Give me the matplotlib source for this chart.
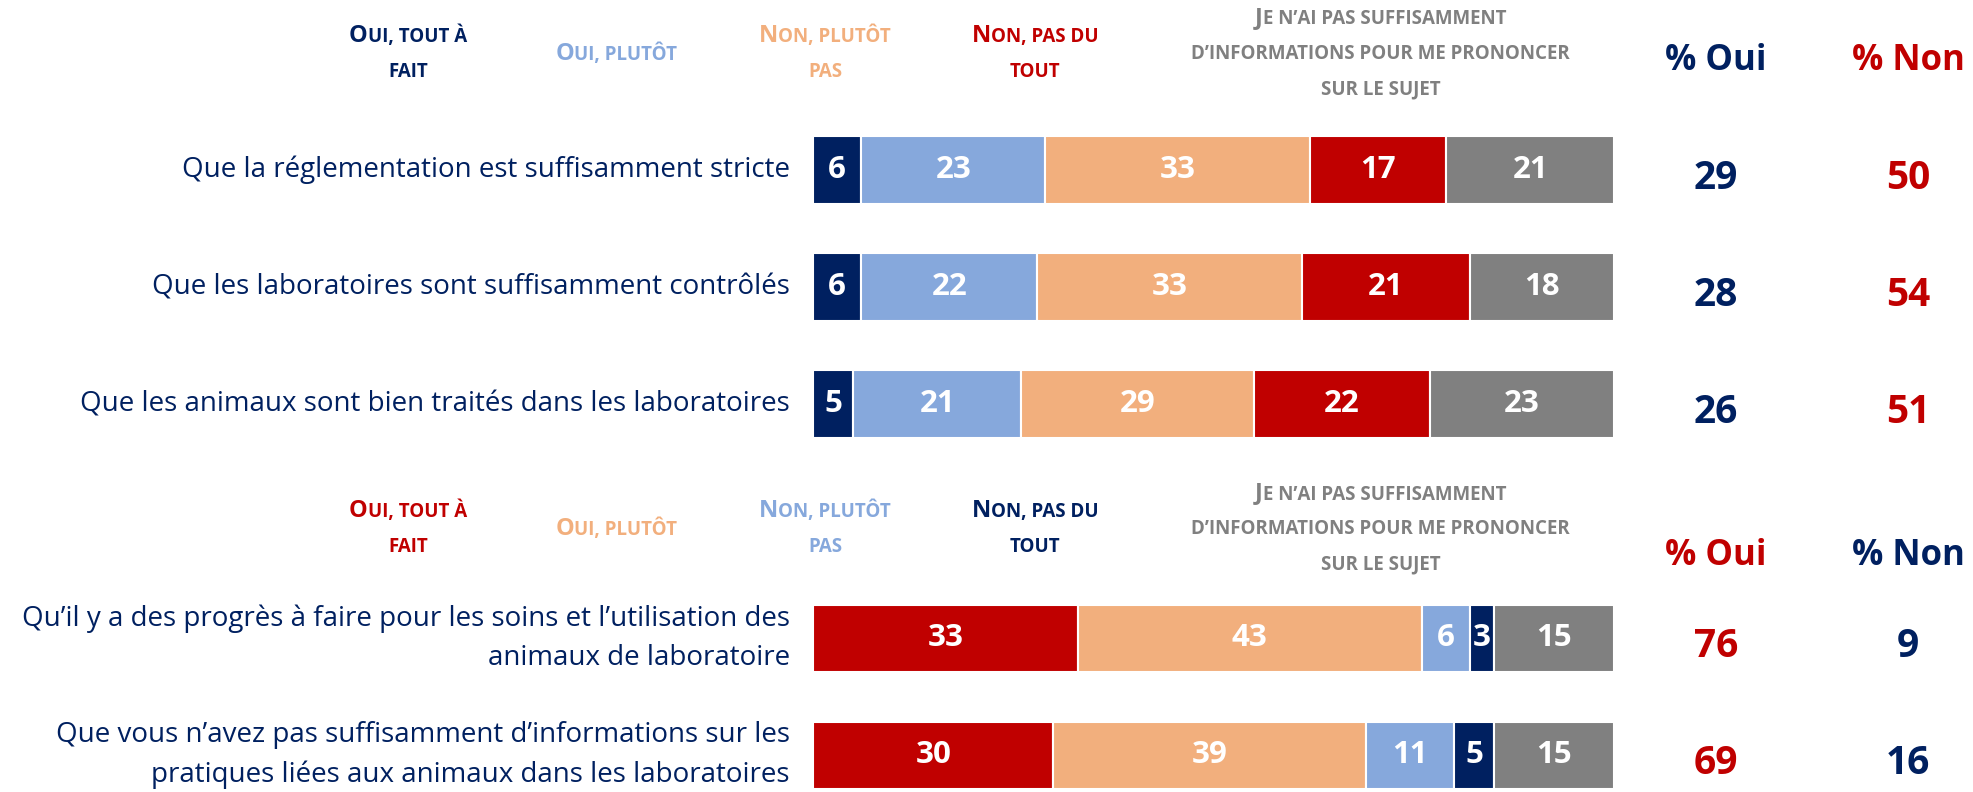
import numpy as np
import matplotlib
matplotlib.use("Agg")
import matplotlib.pyplot as plt
from matplotlib.offsetbox import TextArea, HPacker, AnnotationBbox

plt.rcParams['font.family'] = ['Open Sans', 'DejaVu Sans']

NAVY = '#002060'
LBLUE = '#86A8DC'
PEACH = '#F2AF7D'
RED = '#C00000'
GREY = '#808080'

# --- données ---
top_items = ["Que la réglementation est suffisamment stricte",
             "Que les laboratoires sont suffisamment contrôlés",
             "Que les animaux sont bien traités dans les laboratoires"]
top_tout_a_fait = [6, 6, 5]
top_plutot = [23, 22, 21]
top_plutot_pas = [33, 33, 29]
top_pas_du_tout = [17, 21, 22]
top_nsp = [21, 18, 23]
top_oui = [29, 28, 26]
top_non = [50, 54, 51]

bottom_items = ["Qu’il y a des progrès à faire pour les soins et l’utilisation des\nanimaux de laboratoire",
                "Que vous n’avez pas suffisamment d’informations sur les\npratiques liées aux animaux dans les laboratoires"]
bot_tout_a_fait = [33, 30]
bot_plutot = [43, 39]
bot_plutot_pas = [6, 11]
bot_pas_du_tout = [3, 5]
bot_nsp = [15, 15]
bot_oui = [76, 69]
bot_non = [9, 16]

answer_labels = ["Oui, tout à\nfait", "Oui, plutôt", "Non, plutôt\npas", "Non, pas du\ntout",
                 "Je n’ai pas suffisamment\nd’informations pour me prononcer\nsur le sujet"]
header_x = [-50.6, -24.6, 1.5, 27.7, 70.8]
col_oui_x, col_non_x = 112.7, 136.7

top_colors = [NAVY, LBLUE, PEACH, RED, GREY]
bot_colors = [RED, PEACH, LBLUE, NAVY, GREY]

fig = plt.figure(figsize=(19.74, 7.92), dpi=100)
ax = fig.add_axes([0, 0, 1, 1])
ax.set_xlim(-101.5, 144.9)
ax.set_ylim(5.316, -1.453)
ax.axis('off')


def smallcaps(x, y, line, color, big=17, small=13.5):
    # imitation des petites capitales
    runs = []
    for ch in line:
        is_big = ch.isupper()
        if runs and runs[-1][0] == is_big:
            runs[-1][1] += ch
        else:
            runs.append([is_big, ch])
    boxes = [TextArea(t.upper(), textprops=dict(color=color, fontsize=big if b else small,
                                                 fontweight='bold'))
             for b, t in runs]
    pack = HPacker(children=boxes, align='baseline', pad=0, sep=0)
    ab = AnnotationBbox(pack, (x, y), xycoords='data', frameon=False,
                        box_alignment=(0.5, 0.5), pad=0)
    ax.add_artist(ab)


def draw_block(ypos, items, series, colors, oui, non, oui_col, non_col, header_y):
    left = np.zeros(len(ypos))
    for vals, c in zip(series, colors):
        vals = np.array(vals)
        bars = ax.barh(ypos, vals, left=left, height=0.573, color=c,
                       edgecolor='white', linewidth=1.5)
        ax.bar_label(bars, labels=[str(v) for v in vals], label_type='center',
                     color='white', fontsize=22.5, fontweight='bold')
        left += vals
    for y, lab in zip(ypos, items):
        ax.text(-2.9, y, lab, ha='right', va='center', fontsize=20, color=NAVY,
                linespacing=1.5)
    for y, o, n in zip(ypos, oui, non):
        ax.text(col_oui_x, y + 0.07, str(o), ha='center', va='center',
                fontsize=28, fontweight='bold', color=oui_col)
        ax.text(col_non_x, y + 0.07, str(n), ha='center', va='center',
                fontsize=28, fontweight='bold', color=non_col)
    # en-têtes des réponses
    lh = 0.305
    for x, lab, c in zip(header_x, answer_labels, colors):
        lines = lab.split('\n')
        n = len(lines)
        for i, line in enumerate(lines):
            smallcaps(x, header_y + (i - (n - 1) / 2) * lh, line, c)


top_y = [0, 1, 2]
bot_y = [4, 5]

draw_block(top_y, top_items,
           [top_tout_a_fait, top_plutot, top_plutot_pas, top_pas_du_tout, top_nsp],
           top_colors, top_oui, top_non, NAVY, RED, -0.99)
ax.text(col_oui_x, -0.93, '% Oui', ha='center', va='center', fontsize=25,
        fontweight='bold', color=NAVY)
ax.text(col_non_x, -0.93, '% Non', ha='center', va='center', fontsize=25,
        fontweight='bold', color=RED)

draw_block(bot_y, bottom_items,
           [bot_tout_a_fait, bot_plutot, bot_plutot_pas, bot_pas_du_tout, bot_nsp],
           bot_colors, bot_oui, bot_non, RED, NAVY, 3.07)
ax.text(col_oui_x, 3.3, '% Oui', ha='center', va='center', fontsize=25,
        fontweight='bold', color=RED)
ax.text(col_non_x, 3.3, '% Non', ha='center', va='center', fontsize=25,
        fontweight='bold', color=NAVY)

fig.savefig('out.png', dpi=100)
